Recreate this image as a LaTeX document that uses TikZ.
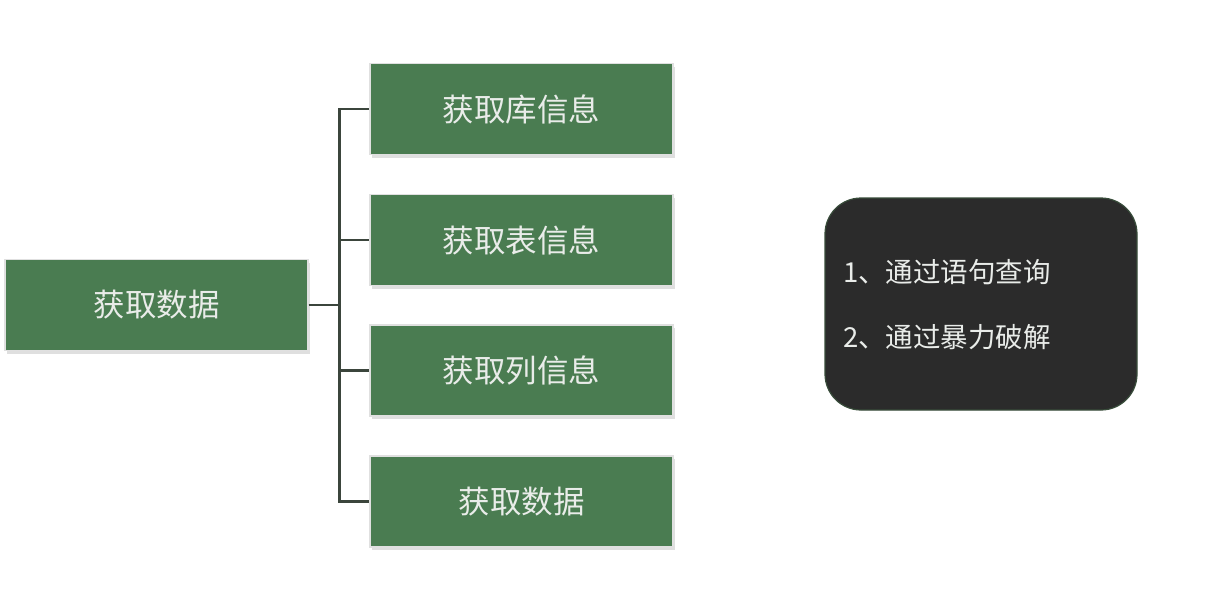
\documentclass[tikz,border=0pt]{standalone}
\usepackage{fontspec}
\setmainfont{Noto Sans CJK SC}
\usetikzlibrary{shadows}

\definecolor{boxgreen}{rgb}{0.290000, 0.486000, 0.318000}
\definecolor{linkgray}{rgb}{0.230000, 0.270000, 0.235000}
\definecolor{notegray}{rgb}{0.170000, 0.170000, 0.170000}
\definecolor{textgray}{rgb}{0.915000, 0.925000, 0.915000}

\tikzset{
  greenbox/.style={rectangle, fill=boxgreen, draw=white!88!black, line width=1.5pt,
    minimum width=303pt, minimum height=91pt, inner sep=0pt, text=textgray,
    font=\fontsize{31.5}{36}\selectfont,
    drop shadow={shadow xshift=2pt, shadow yshift=-3pt, opacity=0.25}},
  notebox/.style={rectangle, rounded corners=36pt, fill=notegray, draw=boxgreen!40!notegray,
    line width=1.2pt, minimum width=312pt, minimum height=212pt, inner sep=0pt},
  notetext/.style={anchor=west, inner sep=0pt, text=textgray, font=\fontsize{27.5}{32}\selectfont},
  link/.style={draw=linkgray, line width=2.6pt},
}

\begin{document}
\begin{tikzpicture}[x=1pt, y=-1pt]
\useasboundingbox (0,0) rectangle (1213,608);
\fill[white] (0,0) rectangle (1213,608);

% root
\node[greenbox] (root) at (156.5,305) {获取数据};

% right column
\node[greenbox] (lib) at (521.5,109) {获取库信息};
\node[greenbox] (tbl) at (521.5,240) {获取表信息};
\node[greenbox] (col) at (521.5,370.5) {获取列信息};
\node[greenbox] (dat) at (521.5,501.5) {获取数据};

\foreach \n in {lib,tbl,col,dat}
  \draw[link] (root.east) -- ++(31,0) |- (\n.west);

% note
\node[notebox] (note) at (981,304) {};
\node[notetext] (first) at (843,272) {1、通过语句查询};
\node[notetext] (second) at (843,337) {2、通过暴力破解};
\end{tikzpicture}
\end{document}
